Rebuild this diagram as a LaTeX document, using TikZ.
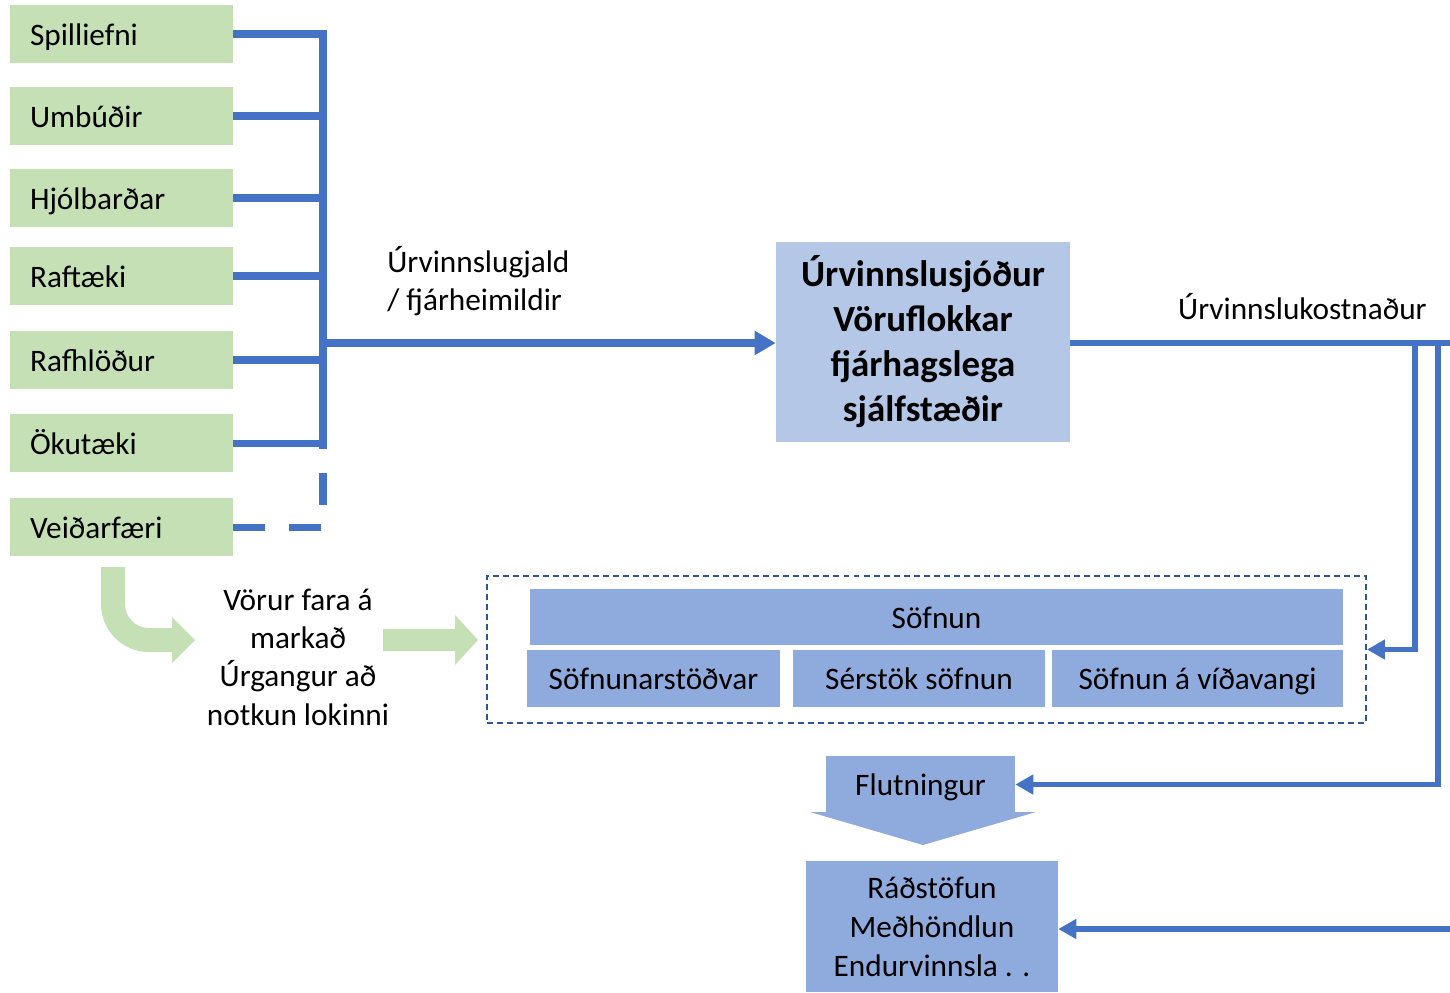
\documentclass[tikz,border=0pt]{standalone}
\usepackage{fontspec}
\setmainfont{Carlito}
\usetikzlibrary{arrows.meta}
\definecolor{grn}{HTML}{C5E0B4}
\definecolor{lblue}{HTML}{B4C7E7}
\definecolor{mblue}{HTML}{8FAADC}
\definecolor{lineblue}{HTML}{4472C4}
\definecolor{dashblue}{HTML}{2F5597}
\tikzset{
  txt/.style={font=\fontsize{17.8}{21.6}\selectfont, inner sep=0pt},
  greenbox/.style={txt, fill=grn, minimum width=4.46cm, minimum height=1.16cm,
    text width=3.66cm, inner xsep=0.4cm, inner ysep=0pt, align=left,
    text height=13.2pt, text depth=0.4pt},
  bluebox/.style={txt, fill=mblue, minimum height=1.14cm, align=center,
    text height=13.2pt, text depth=0.4pt},
  bus/.style={draw=lineblue, line width=4pt},
  conn/.style={draw=lineblue, line width=2.9pt,
    -{Triangle[length=0.36cm,width=0.38cm]}},
  plain/.style={draw=lineblue, line width=2.9pt},
}
\begin{document}
\begin{tikzpicture}[x=0.02cm,y=-0.02cm]
\useasboundingbox (0,0) rectangle (1450,992);

% green product boxes
\node[greenbox] (g1) at (121.5,34) {Spilliefni};
\node[greenbox] (g2) at (121.5,116) {Umbúðir};
\node[greenbox] (g3) at (121.5,198) {Hjólbarðar};
\node[greenbox] (g4) at (121.5,276) {Raftæki};
\node[greenbox] (g5) at (121.5,360) {Rafhlöður};
\node[greenbox] (g6) at (121.5,443) {Ökutæki};
\node[greenbox] (g7) at (121.5,527) {Veiðarfæri};

% bus
\coordinate (bx) at (323,0);
\coordinate (btop) at (323,34);
\coordinate (bbot) at (323,445);
\coordinate (bmid) at (323,343);
\foreach \i in {1,...,6}{
  \draw[bus] (g\i.east) -- (g\i.east -| bx);
}
\draw[bus, line width=4.6pt, line cap=rect] (btop) -- (bbot);
\draw[bus, dash pattern=on 0.64cm off 0.48cm] (g7.east) -- (g7.east -| bx) -- (bmid);

% main box
\node[txt, fill=lblue, minimum width=5.88cm, minimum height=4cm, align=center,
  font=\fontsize{21}{25.6}\selectfont\bfseries] (main) at (923,342)
  {Úrvinnslusjóður\\Vöruflokkar\\fjárhagslega\\sjálfstæðir};
\draw[bus, line width=4.6pt, -{Triangle[length=0.42cm,width=0.46cm]}] (bmid) -- (bmid -| main.west);
\node[txt, anchor=west, align=left] (lbl1) at (387,281) {Úrvinnslugjald\\/ fjárheimildir};

% right side
\coordinate (rend) at (1450,343);
\coordinate (r1) at (1415,343);
\coordinate (r2) at (1438,343);
\draw[plain] (rend -| main.east) -- (rend);
\node[txt, anchor=east] (lbl2) at (1427,307) {Úrvinnslukostnaður};

% collection box
\node[draw=dashblue, line width=1.2pt, dash pattern=on 3.4pt off 2.3pt,
  minimum width=17.58cm, minimum height=2.94cm, inner sep=0pt] (coll) at (926.5,649.5) {};
\node[bluebox, minimum width=16.26cm, minimum height=1.12cm] (sofn) at (936.5,617) {Söfnun};
\node[bluebox, minimum width=5.06cm] (s1) at (653.5,678.5) {Söfnunarstöðvar};
\node[bluebox, minimum width=5.04cm] (s2) at (919,678.5) {Sérstök söfnun};
\node[bluebox, minimum width=5.82cm] (s3) at (1197.5,678.5) {Söfnun á víðavangi};

\draw[conn] (r1) |- (coll.east);

% transport
\node[bluebox, minimum width=3.78cm] (flut) at (920.5,784.5) {Flutningur};
\fill[mblue] (810,812) -- (1036,812) -- (923,845) -- cycle;
\draw[conn] (r2) |- (flut.east);

% disposal
\node[txt, fill=mblue, minimum width=5.04cm, minimum height=2.62cm, align=center,
  font=\fontsize{17.8}{22.2}\selectfont] (rad) at (932,926.5)
  {Ráðstöfun\\Meðhöndlun\\Endurvinnsla . .};
\coordinate (r3) at (1450,929);
\draw[conn] (r3) -- (r3 -| rad.east);

% green arrows
\fill[grn] (101,567) -- (101,604)
  .. controls (101,630.5) and (122.5,652) .. (149,652)
  -- (172,652) -- (172,663) -- (195,640) -- (172,617) -- (172,628)
  -- (149,628) .. controls (135.7,628) and (125,617.3) .. (125,604)
  -- (125,567) -- cycle;
\fill[grn] (383,629) -- (455,629) -- (455,615) -- (478,640) -- (455,665)
  -- (455,651) -- (383,651) -- cycle;
\node[txt, align=center, font=\fontsize{17.8}{21.8}\selectfont] (mid) at (298,657)
  {Vörur fara á\\markað\\Úrgangur að\\notkun lokinni};
\end{tikzpicture}
\end{document}
